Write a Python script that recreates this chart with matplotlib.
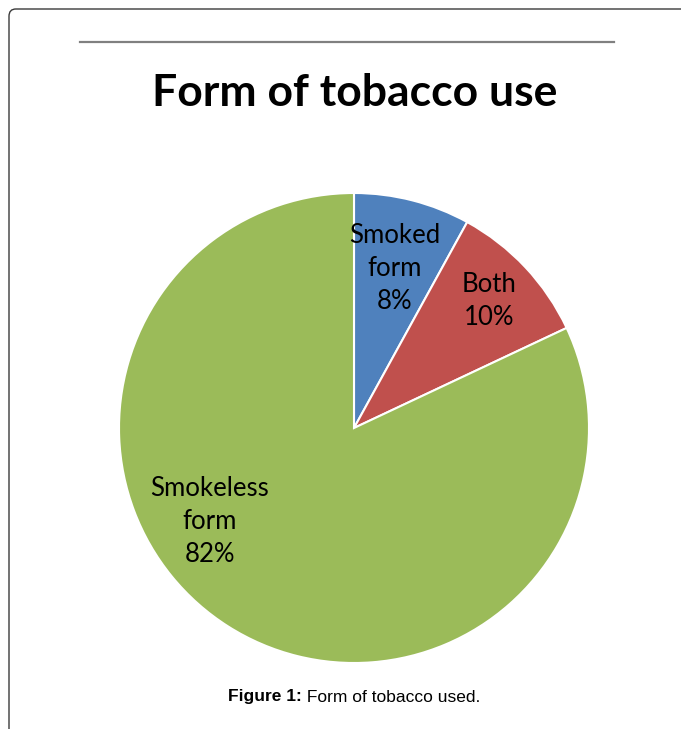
import numpy as np
import matplotlib
matplotlib.use("Agg")
import matplotlib.pyplot as plt
from matplotlib.lines import Line2D
from matplotlib.patches import FancyBboxPatch

# data
categories = ["Smoked\nform", "Both", "Smokeless\nform"]
shares = [8, 10, 82]
colors = ["#4F81BD", "#C0504D", "#9BBB59"]

# label placement (fraction of radius, angle shift in degrees)
lab_r = [0.70, 0.79, 0.73]
lab_shift = [0.0, 0.0, -24.7]

W, H = 681, 729
fig = plt.figure(figsize=(W / 100, H / 100), dpi=100)

def fx(px):
    return px / W

def fy(py):
    return 1 - py / H

# frame with rounded top-left corner
frame = FancyBboxPatch((fx(9), fy(760)), fx(760), fy(9) - fy(760),
                       boxstyle="round,pad=0,rounding_size=0.01",
                       transform=fig.transFigure, fill=False,
                       edgecolor="#3a3a3a", lw=1.0)
fig.add_artist(frame)
fig.add_artist(Line2D([fx(80), fx(614)], [fy(41.5), fy(41.5)],
                      transform=fig.transFigure, color="#808080", lw=1.6))

fig.text(fx(355), fy(93), "Form of tobacco use", ha="center", va="center",
         fontsize=32, fontweight="bold", family="Lato")

cx, cy, R = 354, 428, 235
ax = fig.add_axes([fx(cx - R), fy(cy + R), fx(2 * R), fy(cy - R) - fy(cy + R)])
wedges, _ = ax.pie(shares, colors=colors, startangle=90, counterclock=False,
                   radius=1, wedgeprops=dict(edgecolor="white", linewidth=1.5))
ax.set_xlim(-1, 1)
ax.set_ylim(-1, 1)
ax.set_aspect("equal")
ax.axis("off")

for w, cat, s, r, sh in zip(wedges, categories, shares, lab_r, lab_shift):
    ang = np.deg2rad((w.theta1 + w.theta2) / 2 + sh)
    ax.text(r * np.cos(ang), r * np.sin(ang), f"{cat}\n{s}%", ha="center",
            va="center", fontsize=18.5, family="Lato", linespacing=1.4)

fig.text(fx(302), fy(697), "Figure 1:", ha="right", va="center",
         fontsize=12.5, fontweight="bold", family="Liberation Sans")
fig.text(fx(302), fy(697), " Form of tobacco used.", ha="left", va="center",
         fontsize=12.5, family="Liberation Sans")

fig.savefig("out.png", dpi=100)
